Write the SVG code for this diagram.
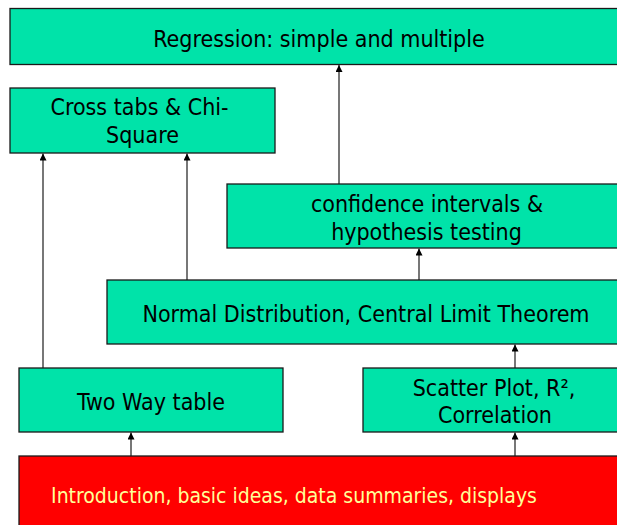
<svg xmlns="http://www.w3.org/2000/svg" width="617" height="525" viewBox="0 0 617 525">
<style>
.box{fill:#00E3A9;stroke:#1a1a1a;stroke-width:1.3}
.red{fill:#FF0000;stroke:#1a1a1a;stroke-width:1.3}
.t{font-family:"DejaVu Sans Condensed","DejaVu Sans",Tahoma,sans-serif;font-stretch:condensed;font-size:23px;fill:#000;text-anchor:middle}
.ty{fill:#FFFF99;font-size:21px}
.c{stroke:#555;stroke-width:1.6;fill:none;marker-end:url(#ah)}
</style>
<defs>
<marker id="ah" markerUnits="userSpaceOnUse" markerWidth="8" markerHeight="8" refX="7" refY="3.5" orient="auto">
<path d="M0,0 L7,3.5 L0,7 z" fill="#000"/>
</marker>
</defs>
<rect width="617" height="525" fill="#fff"/>
<g id="connectors">
<line class="c" x1="43" y1="368" x2="43" y2="153.5"/>
<line class="c" x1="187" y1="280" x2="187" y2="153.5"/>
<line class="c" x1="339" y1="184" x2="339" y2="65"/>
<line class="c" x1="419" y1="280" x2="419" y2="248.5"/>
<line class="c" x1="515" y1="368" x2="515" y2="344.5"/>
<line class="c" x1="131" y1="456" x2="131" y2="432.5"/>
<line class="c" x1="515" y1="456" x2="515" y2="432.5"/>
</g>
<g id="regression">
<rect class="box" x="10" y="8.5" width="618" height="56"/>
<text class="t" x="319" y="47">Regression: simple and multiple</text>
</g>
<g id="crosstabs">
<rect class="box" x="10" y="88" width="265" height="65"/>
<text class="t" x="139.5" y="115">Cross tabs &amp; Chi-</text>
<text class="t" x="142.5" y="142.5">Square</text>
</g>
<g id="confidence">
<rect class="box" x="227" y="184" width="400" height="64"/>
<text class="t" x="427" y="211.5">confidence intervals &amp;</text>
<text class="t" x="426.5" y="240">hypothesis testing</text>
</g>
<g id="normal">
<rect class="box" x="107" y="280" width="520" height="64"/>
<text class="t" x="366" y="322">Normal Distribution, Central Limit Theorem</text>
</g>
<g id="twoway">
<rect class="box" x="19" y="368" width="264" height="64"/>
<text class="t" x="151" y="410">Two Way table</text>
</g>
<g id="scatter">
<rect class="box" x="363" y="368" width="264" height="64"/>
<text class="t" x="494" y="396">Scatter Plot, R²,</text>
<text class="t" x="495" y="423.3">Correlation</text>
</g>
<g id="intro">
<rect class="red" x="19" y="456" width="610" height="80"/>
<text class="t ty" x="294" y="502.5">Introduction, basic ideas, data summaries, displays</text>
</g>
</svg>
